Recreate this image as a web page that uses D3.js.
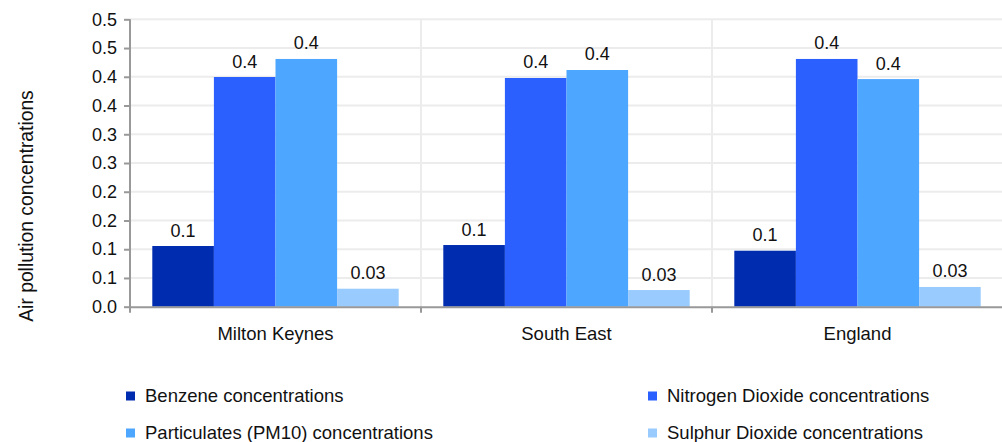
<!DOCTYPE html>
<html>
<head>
<meta charset="utf-8">
<script src="https://cdn.jsdelivr.net/npm/d3@7"></script>
<style>
  html, body { margin: 0; padding: 0; background: #fff; }
  svg { display: block; }
  text { font-family: "Liberation Sans", Arial, sans-serif; fill: #111; }
</style>
</head>
<body>
<svg id="chart" width="1002" height="442"></svg>
<script>
const categories = ["Milton Keynes", "South East", "England"];
const seriesNames = ["Benzene concentrations", "Nitrogen Dioxide concentrations", "Particulates (PM10) concentrations", "Sulphur Dioxide concentrations"];
const benzene = [0.1056, 0.1073, 0.0974];
const nitrogenDioxide = [0.3996, 0.3979, 0.431];
const particulates = [0.431, 0.4118, 0.396];
const sulphurDioxide = [0.0313, 0.029, 0.0343];
const colors = ["#002db0", "#2b60ff", "#4da6ff", "#99cbff"];
const tickValues = [0, 0.05, 0.1, 0.15, 0.2, 0.25, 0.3, 0.35, 0.4, 0.45, 0.5];
const tickLabels = ["0.0", "0.1", "0.1", "0.2", "0.2", "0.3", "0.3", "0.4", "0.4", "0.5", "0.5"];
const yTitle = "Air pollution concentrations";

const seriesValues = [benzene, nitrogenDioxide, particulates, sulphurDioxide];

const svg = d3.select("#chart");
const mLeft = 130, mRight = 1003, mTop = 19.3, mBottom = 306.7;

const x0 = d3.scaleBand().domain(categories).range([mLeft, mRight]).paddingInner(0).paddingOuter(0);
const bw = x0.bandwidth();
const x1 = d3.scaleBand().domain(d3.range(seriesNames.length)).range([22.3, bw - 22.3]).padding(0);
const y = d3.scaleLinear().domain([0, 0.5]).range([mBottom, mTop]);

// horizontal grid
svg.append("g").selectAll("line").data(tickValues.slice(1)).join("line")
  .attr("x1", mLeft).attr("x2", mRight)
  .attr("y1", d => y(d)).attr("y2", d => y(d))
  .attr("stroke", "#ececec").attr("stroke-width", 2);

// vertical grid at category boundaries
const bounds = categories.map(c => x0(c)).slice(1).concat([mRight]);
svg.append("g").selectAll("line").data(bounds).join("line")
  .attr("x1", d => d).attr("x2", d => d)
  .attr("y1", mTop).attr("y2", mBottom)
  .attr("stroke", "#ececec").attr("stroke-width", 2);

// bars
const groups = svg.append("g").selectAll("g").data(categories).join("g")
  .attr("transform", c => `translate(${x0(c)},0)`);

const fmt = d3.format(".1r");
groups.each(function(c, ci) {
  const g = d3.select(this);
  const data = seriesValues.map((s, si) => ({ si, v: s[ci] }));
  g.selectAll("rect").data(data).join("rect")
    .attr("x", d => x1(d.si))
    .attr("width", x1.bandwidth())
    .attr("y", d => y(d.v))
    .attr("height", d => y(0) - y(d.v))
    .attr("fill", d => colors[d.si]);
  g.selectAll("text").data(data).join("text")
    .attr("x", d => x1(d.si) + x1.bandwidth() / 2)
    .attr("y", d => y(d.v) - 9.5)
    .attr("text-anchor", "middle")
    .style("font-size", "18px")
    .text(d => fmt(d.v));
});

// y axis
const yAxis = d3.axisLeft(y).tickValues(tickValues)
  .tickFormat((d, i) => tickLabels[i]).tickSize(6).tickSizeOuter(0).tickPadding(7);
const yg = svg.append("g").attr("transform", `translate(${mLeft},0)`).call(yAxis);
yg.select(".domain").attr("stroke", "#999").attr("stroke-width", 2)
  .attr("d", `M0,${mTop}V${mBottom + 6}`);
yg.selectAll(".tick line").attr("stroke", "#999").attr("stroke-width", 2);
yg.selectAll(".tick text").style("font-size", "18px").style("font-family", '"Liberation Sans", Arial, sans-serif').attr("fill", "#111");

// x axis
const xAxis = d3.axisBottom(x0).tickSize(0).tickSizeOuter(0).tickPadding(20);
const xg = svg.append("g").attr("transform", `translate(0,${mBottom})`).call(xAxis);
xg.select(".domain").attr("stroke", "#999").attr("stroke-width", 2);
xg.selectAll(".tick text").style("font-size", "18.5px").style("font-family", '"Liberation Sans", Arial, sans-serif').attr("fill", "#111");
xg.selectAll("line.bound").data(bounds).join("line").attr("class", "bound")
  .attr("x1", d => d).attr("x2", d => d).attr("y1", 0).attr("y2", 6)
  .attr("stroke", "#999").attr("stroke-width", 2);

// y title
svg.append("text")
  .attr("transform", "translate(33,206) rotate(-90)")
  .attr("text-anchor", "middle")
  .style("font-size", "19.3px")
  .text(yTitle);

// legend
const legendPos = [[126, 396], [648, 396], [126, 433], [648, 433]];
const lg = svg.append("g").selectAll("g").data(seriesNames).join("g")
  .attr("transform", (d, i) => `translate(${legendPos[i][0]},${legendPos[i][1]})`);
lg.append("rect").attr("x", 0).attr("y", -4.5).attr("width", 9).attr("height", 9)
  .attr("fill", (d, i) => colors[i]);
lg.append("text").attr("x", 19).attr("y", 0).attr("dy", "0.35em")
  .style("font-size", "18.5px").text(d => d);
</script>
</body>
</html>
